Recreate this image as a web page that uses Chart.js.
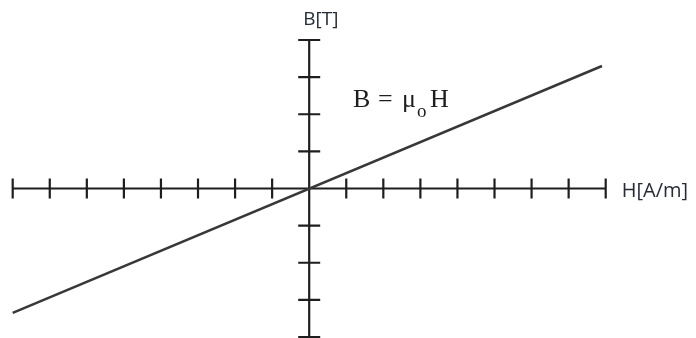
<!DOCTYPE html>
<html>
<head>
<meta charset="utf-8">
<script src="https://cdn.jsdelivr.net/npm/chart.js@4"></script>
<style>
  html, body { margin: 0; padding: 0; background: #fff; }
  #wrap { width: 696px; height: 338px; position: relative; }
</style>
</head>
<body>
<div id="wrap"><canvas id="bh"></canvas></div>
<script>
// field strength H (x) and flux density B (y) for B = mu0 * H
const hValues = [-8, 7.9];
const bValues = [-3.35, 3.3];

// tick positions along each axis (arbitrary units)
const hTicks = [-8, -7, -6, -5, -4, -3, -2, -1, 1, 2, 3, 4, 5, 6, 7, 8];
const bTicks = [-4, -3, -2, -1, 1, 2, 3, 4];

const xLabel = 'H[A/m]';
const yLabel = 'B[T]';

const points = hValues.map((h, i) => ({ x: h, y: bValues[i] }));

// draws the crossed axes with "+" style ticks using the chart scales
const crossAxes = {
	id: 'crossAxes',
	beforeDatasetsDraw(chart) {
		const c = chart.ctx;
		const xs = chart.scales.x;
		const ys = chart.scales.y;
		const x0 = xs.getPixelForValue(0);
		const y0 = ys.getPixelForValue(0);
		c.save();
		c.strokeStyle = '#1e1e1e';
		c.lineWidth = 2.2;
		c.beginPath();
		c.moveTo(xs.getPixelForValue(-8), y0);
		c.lineTo(xs.getPixelForValue(8), y0);
		c.moveTo(x0, ys.getPixelForValue(4));
		c.lineTo(x0, chart.height);
		hTicks.forEach(t => {
			const px = xs.getPixelForValue(t);
			c.moveTo(px, y0 - 10);
			c.lineTo(px, y0 + 10);
		});
		bTicks.forEach(t => {
			const py = ys.getPixelForValue(t);
			c.moveTo(x0 - 11, py);
			c.lineTo(x0 + 11, py);
		});
		c.stroke();
		c.restore();
	},
	afterDraw(chart) {
		const c = chart.ctx;
		const xs = chart.scales.x;
		const ys = chart.scales.y;
		const x0 = xs.getPixelForValue(0);
		const y0 = ys.getPixelForValue(0);
		c.save();
		c.fillStyle = '#262b38';
		c.textBaseline = 'alphabetic';
		c.textAlign = 'left';
		c.font = '19px "Open Sans"';
		c.fillText(yLabel, x0 - 6, 25);
		c.font = '20px "Open Sans"';
		c.fillText(xLabel, xs.getPixelForValue(8) + 16, y0 + 8);

		// formula label, pieces placed one by one
		c.fillStyle = '#1e1e1e';
		const base = 107;
		c.font = '26px "Liberation Serif"';
		c.fillText('B', 353, base);
		c.fillText('=', 378, base);
		c.fillText('\u03bc', 402, base);
		c.fillText('H', 430, base);
		c.font = '19px "Liberation Serif"';
		c.fillText('o', 417, base + 9.5);
		c.restore();
	}
};

new Chart(document.getElementById('bh'), {
	type: 'scatter',
	data: {
		datasets: [
			{
				data: points,
				showLine: true,
				borderColor: '#383838',
				borderWidth: 2.5,
				pointRadius: 0,
				clip: false,
			},
		]
	},
	options: {
		responsive: true,
		maintainAspectRatio: false,
		animation: false,
		layout: {
			padding: { left: 12.7, right: 90.3, top: 40, bottom: 1 }
		},
		plugins: {
			legend: { display: false },
			tooltip: { enabled: false }
		},
		scales: {
			x: { type: 'linear', min: -8, max: 8, display: false },
			y: { type: 'linear', min: -4, max: 4, display: false }
		}
	},
	plugins: [crossAxes]
});
</script>
</body>
</html>
